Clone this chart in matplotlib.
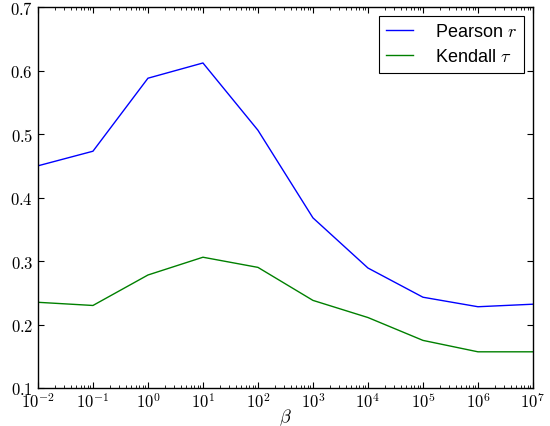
import math
import matplotlib
matplotlib.use("Agg")
import matplotlib.pyplot as plt
from matplotlib.ticker import FuncFormatter, LogLocator, FixedLocator, NullLocator

plt.rcParams['mathtext.fontset'] = 'cm'
plt.rcParams['font.family'] = ['Liberation Sans', 'DejaVu Sans']

beta = [1e-2, 1e-1, 1e0, 1e1, 1e2, 1e3, 1e4, 1e5, 1e6, 1e7]
pearson = [0.450, 0.473, 0.588, 0.612, 0.506, 0.368, 0.289, 0.243, 0.228, 0.232]
kendall = [0.235, 0.230, 0.278, 0.306, 0.290, 0.238, 0.211, 0.175, 0.157, 0.157]
yticks = [0.1, 0.2, 0.3, 0.4, 0.5, 0.6, 0.7]

fig = plt.figure(figsize=(5.5, 4.27), dpi=100, facecolor='white')
ax = fig.add_axes([0.069, 0.089, 0.9, 0.892])
ax.plot(beta, pearson, color='#0000ff', lw=1.0, label=r'Pearson $r$')
ax.plot(beta, kendall, color='#008000', lw=1.0, label=r'Kendall $\tau$')
ax.set_xscale('log')
ax.set_xlim(1e-2, 1e7)
ax.set_ylim(0.1, 0.7)
ax.yaxis.set_major_locator(FixedLocator(yticks))
ax.yaxis.set_minor_locator(NullLocator())
ax.yaxis.set_major_formatter(FuncFormatter(lambda v, p: r'$%.1f$' % v))
ax.xaxis.set_major_locator(LogLocator(base=10, numticks=20))
ax.xaxis.set_minor_locator(LogLocator(base=10, subs=range(2, 10), numticks=20))
ax.xaxis.set_major_formatter(FuncFormatter(lambda v, p: r'$10^{%d}$' % round(math.log10(v))))
ax.tick_params(which='both', direction='in', top=True, right=True, labelsize=12, colors='black')
ax.tick_params(which='major', length=4, width=0.8)
ax.tick_params(which='minor', length=2, width=0.6)
ax.tick_params(axis='x', pad=2)
ax.set_xlabel(r'$\beta$', fontsize=13, labelpad=-3)
for s in ax.spines.values():
    s.set_linewidth(1.0)
leg = ax.legend(loc='upper right', fontsize=13, fancybox=False, framealpha=1,
                edgecolor='black', borderpad=0.4, labelspacing=0.45,
                handlelength=1.5, handletextpad=1.2, borderaxespad=0.5)
leg.get_frame().set_linewidth(0.8)
fig.savefig('out.png', dpi=100, facecolor='white')
